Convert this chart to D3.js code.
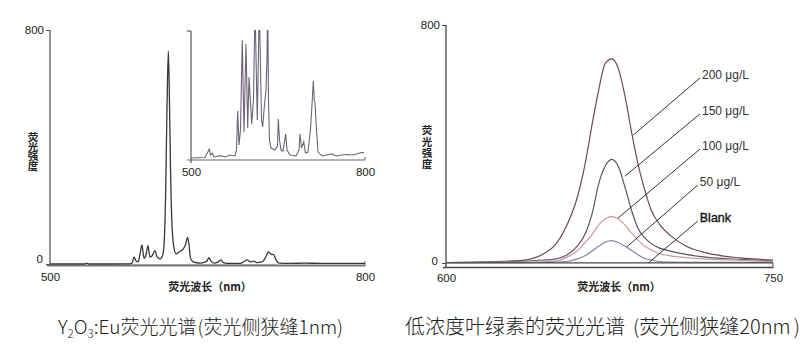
<!DOCTYPE html>
<html>
<head>
<meta charset="utf-8">
<title>荧光光谱</title>
<script src="https://d3js.org/d3.v7.min.js"></script>
<style>
  body { margin: 0; background: #fff; }
  svg text { font-family: "Liberation Sans", Arial, sans-serif; fill: #222; }
  .cjk { font-family: "Noto Sans CJK SC", sans-serif; }
  .domain { display: none; }
</style>
</head>
<body>
<svg id="chart" width="800" height="362"></svg>
<script>
// Y2O3:Eu spectrum, main plot (nm / intensity)
var euWavelength = [500, 520, 533, 535, 537, 548, 560, 576, 578, 580, 582, 584, 585.7, 587.6, 589.5,
  591.4, 593.3, 595.2, 597.1, 600, 602, 604.8, 607.1, 608.6, 610, 611.4, 612.7, 613.6, 614.8, 616.2,
  618.1, 620, 622.9, 626.7, 629, 631, 632.4, 633.8, 636.2, 643, 649.5, 651.4, 653.3, 657, 660,
  663, 665, 671, 681, 688, 690.5, 694, 697, 702, 705, 708, 710.5, 713, 715.2, 718, 729, 743, 757, 776, 800];
var euIntensity = [0, 0, 0, 3, 0, 0, 0, 0.5, 3, 24, 10, 7, 34, 65, 20,
  31, 63, 24, 27, 46, 24, 17, 27, 65, 219, 526, 728, 595, 321, 133,
  55, 34, 41, 51, 65, 91, 65, 20, 7, 3, 10, 22, 10, 3, 7,
  14, 5, 2, 2, 14, 7, 10, 5, 7, 20, 41, 34, 32, 14, 3, 2, 3, 2, 2, 2];

// inset (magnified) spectrum
var insetWavelength = [500, 524, 531.6, 533.6, 536.7, 539.7, 551.2, 558.6, 567.2, 575.9, 578.4, 580.5,
  582.8, 585.3, 588.4, 591.4, 594.8, 597.8, 600, 604.7, 607.8, 610.3, 614.3, 617.8, 621.6, 623.6,
  625.9, 629.3, 631, 632.2, 633.6, 635.3, 637.9, 644.8, 649.1, 650.5, 652.6, 655.2, 658.6, 663.3,
  665.5, 670.7, 681, 686.2, 687.9, 690.5, 694.3, 697.4, 701.7, 706, 708.6, 710.9, 712.6, 713.8,
  716.4, 719, 725.9, 734.5, 742.6, 750, 760.3, 769, 777.6, 786.2, 793.1, 798.3];
var insetIntensity = [0, 0.3, 5.3, 1.8, 2.8, 0.6, 1.4, 0.6, 1.8, 1.2, 4.7, 27.8,
  7.7, 16.5, 69.7, 15.4, 67.3, 17.7, 47.8, 20, 35, 90, 22.4, 90, 22.4, 18.3,
  28.4, 40, 58, 95, 34, 10.6, 5.9, 4.7, 7, 23, 10.6, 4.7, 4.1, 14.2,
  4.7, 1.8, 1.2, 4.7, 14.2, 5.9, 9.5, 3, 3.5, 16.5, 31.3, 45.5, 34, 32.5,
  16.5, 3.5, 1.2, 1.8, 2.4, 1.2, 1.8, 2.1, 1.8, 2.4, 3.2, 3];

// chlorophyll spectra
var chlWavelength = [600, 620, 635, 645, 650, 655, 660, 664, 667, 670, 673, 676, 679, 682, 685, 688, 691, 694, 698, 703, 710, 720, 735, 750];
var blank   = [0.5, 0.5, 0.5, 0.5, 0.5, 0.5, 0.5, 0.5, 0.5, 0.5, 0.5, 0.5, 0.5, 0.5, 0.5, 0.5, 0.5, 0.5, 0.5, 0.5, 0.5, 0.5, 0.5, 0.5];
var conc50  = [1, 1, 1.5, 2, 3, 5, 13, 25, 40, 56, 70, 75, 69, 57, 43, 28, 16, 10, 5, 3, 2.5, 2, 2, 1.7];
var conc100 = [1, 2, 3, 4, 6, 18, 40, 70, 95, 128, 148, 156, 148, 128, 102, 78, 57, 45, 31, 24, 18, 13, 9, 5];
var conc150 = [1.7, 3, 6, 10, 13, 25, 55, 100, 165, 265, 325, 348, 325, 258, 180, 118, 86, 66, 50, 40, 29, 19, 12, 7];
var conc200 = [1.7, 4, 9, 32, 60, 120, 215, 340, 465, 580, 670, 686, 655, 565, 445, 335, 250, 180, 130, 92, 57, 33, 17, 10];

var seriesNames = ["200 μg/L", "150 μg/L", "100 μg/L", "50 μg/L", "Blank"];
// label anchor and the curve point the leader line points at (nm, intensity)
var labelWl = [716.5, 716.5, 716.5, 715.5, 715.5];
var labelVal = [622, 501, 383, 262, 141];
var targetWl = [685.9, 682.1, 678.9, 682.9, 692.8];
var targetVal = [430, 292, 151, 54, 0];

var xTicksEu = [500, 800], yTicks = [0, 800], xTicksChl = [600, 750];

var svg = d3.select("#chart");

// stacked y title, one text element written top to bottom
function verticalLabel(g, x, y0, spacing) {
  g.append("text")
    .attr("class", "cjk")
    .attr("x", x).attr("y", y0)
    .style("writing-mode", "vertical-rl")
    .style("font-size", "10.5px").style("font-weight", "bold")
    .style("letter-spacing", spacing + "px")
    .text("荧光强度");
}

// ---------- left: Y2O3:Eu ----------
var x1 = d3.scaleLinear().domain([500, 800]).range([50, 365]);
var y1 = d3.scaleLinear().domain([0, 800]).range([264, 30]);
var left = svg.append("g");

left.append("line").attr("x1", x1(500)).attr("x2", x1(500)).attr("y1", y1(800)).attr("y2", 266)
  .attr("stroke", "#555").attr("stroke-width", 1.3);
left.append("line").attr("x1", 47).attr("x2", x1(800)).attr("y1", 265.5).attr("y2", 265.5)
  .attr("stroke", "#777").attr("stroke-width", 2);
left.append("line").attr("x1", x1(800)).attr("x2", x1(800)).attr("y1", 261).attr("y2", 266)
  .attr("stroke", "#777").attr("stroke-width", 1);

var ax1 = left.append("g").attr("transform", "translate(" + x1(500) + ",0)")
  .call(d3.axisLeft(y1).tickValues(yTicks).tickSize(4).tickPadding(3));
ax1.selectAll("line").attr("stroke", "#555");
ax1.selectAll("text").style("font-size", "11.5px").attr("dy", function(d) { return d === 0 ? "-0.1em" : "0.32em"; })
  .attr("x", function(d) { return d === 0 ? -7 : -6; });

var bx1 = left.append("g").attr("transform", "translate(0,266)")
  .call(d3.axisBottom(x1).tickValues(xTicksEu).tickSize(0).tickPadding(7));
bx1.selectAll("text").style("font-size", "11.5px");

// dotted reference under the peaks
left.append("line").attr("x1", x1(575)).attr("x2", x1(716)).attr("y1", y1(0) + 0.5).attr("y2", y1(0) + 0.5)
  .attr("stroke", "#666").attr("stroke-width", 0.8).attr("stroke-dasharray", "1.2,2");

var euLine = d3.line()
  .x(function(d, i) { return x1(euWavelength[i]); })
  .y(function(d) { return y1(d); })
  .curve(d3.curveMonotoneX);
left.append("path").datum(euIntensity).attr("d", euLine)
  .attr("fill", "none").attr("stroke", "#3d3535").attr("stroke-width", 1.3);

verticalLabel(left, 33, 132, -1);
left.append("text").attr("class", "cjk").attr("x", 210).attr("y", 291).attr("text-anchor", "middle")
  .style("font-size", "11px").style("font-weight", "bold").text("荧光波长（nm）");

// inset
var xi = d3.scaleLinear().domain([500, 800]).range([191, 365]);
var yi = d3.scaleLinear().domain([0, 75]).range([158, 31]);
left.append("clipPath").attr("id", "insetClip").append("rect")
  .attr("x", 191).attr("y", 30).attr("width", 175).attr("height", 131);
left.append("line").attr("x1", xi(500)).attr("x2", xi(500)).attr("y1", yi(75)).attr("y2", 163)
  .attr("stroke", "#555").attr("stroke-width", 1.2);
left.append("line").attr("x1", 187).attr("x2", 191).attr("y1", yi(75)).attr("y2", yi(75))
  .attr("stroke", "#555").attr("stroke-width", 1.2);
left.append("line").attr("x1", 187).attr("x2", xi(800)).attr("y1", 160).attr("y2", 160)
  .attr("stroke", "#666").attr("stroke-width", 1.2);
left.append("line").attr("x1", xi(800)).attr("x2", xi(800)).attr("y1", 157).attr("y2", 160)
  .attr("stroke", "#666").attr("stroke-width", 1);
var bxi = left.append("g").attr("transform", "translate(0,161)")
  .call(d3.axisBottom(xi).tickValues(xTicksEu).tickSize(0).tickPadding(7));
bxi.selectAll("text").style("font-size", "11.5px");

var insetLine = d3.line()
  .x(function(d, i) { return xi(insetWavelength[i]); })
  .y(function(d) { return yi(d); });
left.append("path").datum(insetIntensity).attr("d", insetLine).attr("clip-path", "url(#insetClip)")
  .attr("fill", "none").attr("stroke", "#6e6478").attr("stroke-width", 1.1);

// ---------- right: chlorophyll ----------
var x2 = d3.scaleLinear().domain([600, 750]).range([446, 773]);
var y2 = d3.scaleLinear().domain([0, 800]).range([263, 25]);
var right = svg.append("g");

right.append("line").attr("x1", x2(600)).attr("x2", x2(600)).attr("y1", y2(800)).attr("y2", 268)
  .attr("stroke", "#444").attr("stroke-width", 1.3);
right.append("line").attr("x1", 443).attr("x2", x2(750)).attr("y1", 267.5).attr("y2", 267.5)
  .attr("stroke", "#444").attr("stroke-width", 1.3);
right.append("line").attr("x1", x2(750)).attr("x2", x2(750)).attr("y1", 263).attr("y2", 268)
  .attr("stroke", "#444").attr("stroke-width", 1);

var ax2 = right.append("g").attr("transform", "translate(" + x2(600) + ",0)")
  .call(d3.axisLeft(y2).tickValues(yTicks).tickSize(4).tickPadding(3));
ax2.selectAll("line").attr("stroke", "#444");
ax2.selectAll("text").style("font-size", "11.5px").attr("dy", function(d) { return d === 0 ? "0.15em" : "0.32em"; })
  .attr("x", function(d) { return d === 0 ? -8 : -6; });

var bx2 = right.append("g").attr("transform", "translate(0,268)")
  .call(d3.axisBottom(x2).tickValues(xTicksChl).tickSize(0).tickPadding(6));
bx2.selectAll("text").style("font-size", "11.5px");

var chlSeries = [conc200, conc150, conc100, conc50, blank];
var chlColors = ["#6e4a52", "#5d5468", "#cc9a9c", "#7f86a6", "#4a4a4a"];
var chlLine = d3.line()
  .x(function(d, i) { return x2(chlWavelength[i]); })
  .y(function(d) { return y2(d); })
  .curve(d3.curveMonotoneX);
right.selectAll(".chl").data(chlSeries).enter().append("path").attr("class", "chl")
  .attr("d", chlLine).attr("fill", "none")
  .attr("stroke", function(d, i) { return chlColors[i]; }).attr("stroke-width", 1.2);

// leader lines + labels
right.selectAll(".leader").data(seriesNames).enter().append("line").attr("class", "leader")
  .attr("x1", function(d, i) { return x2(labelWl[i]); })
  .attr("y1", function(d, i) { return y2(labelVal[i]); })
  .attr("x2", function(d, i) { return x2(targetWl[i]); })
  .attr("y2", function(d, i) { return y2(targetVal[i]); })
  .attr("stroke", "#3a3030").attr("stroke-width", 1);
right.selectAll(".lbl").data(seriesNames).enter().append("text").attr("class", "lbl")
  .attr("x", function(d, i) { return x2(labelWl[i]) + 2; })
  .attr("y", function(d, i) { return y2(labelVal[i]); })
  .attr("dy", "0.1em")
  .style("font-size", function(d) { return d === "Blank" ? "12.5px" : "12px"; })
  .style("fill", function(d) { return d === "Blank" ? "#111" : "#333"; })
  .style("stroke", function(d) { return d === "Blank" ? "#111" : "none"; })
  .style("stroke-width", 0.35)
  .text(function(d) { return d; });

verticalLabel(right, 427, 125, 0.8);
right.append("text").attr("class", "cjk").attr("x", 619).attr("y", 291).attr("text-anchor", "middle")
  .style("font-size", "11px").style("font-weight", "bold").text("荧光波长（nm）");

// ---------- captions ----------
var cap1 = svg.append("text").attr("class", "cjk").attr("x", 58).attr("y", 334)
  .style("font-size", "19px").style("font-weight", 300).style("fill", "#222");
cap1.append("tspan").text("Y");
cap1.append("tspan").attr("dy", 4).style("font-size", "11.5px").text("2");
cap1.append("tspan").attr("dy", -4).text("O");
cap1.append("tspan").attr("dy", 4).style("font-size", "11.5px").text("3");
cap1.append("tspan").attr("dy", -4).text(":Eu荧光光谱");
cap1.append("tspan").attr("dx", 1).text("(荧光侧狭缝1nm)");

var cap2 = svg.append("text").attr("class", "cjk").attr("x", 405).attr("y", 334)
  .style("font-size", "20px").style("font-weight", 300).style("fill", "#222");
cap2.append("tspan").text("低浓度叶绿素的荧光光谱");
cap2.append("tspan").attr("dx", 8).text("(荧光侧狭缝20nm");
cap2.append("tspan").attr("dx", 3).text(")");
</script>
</body>
</html>
